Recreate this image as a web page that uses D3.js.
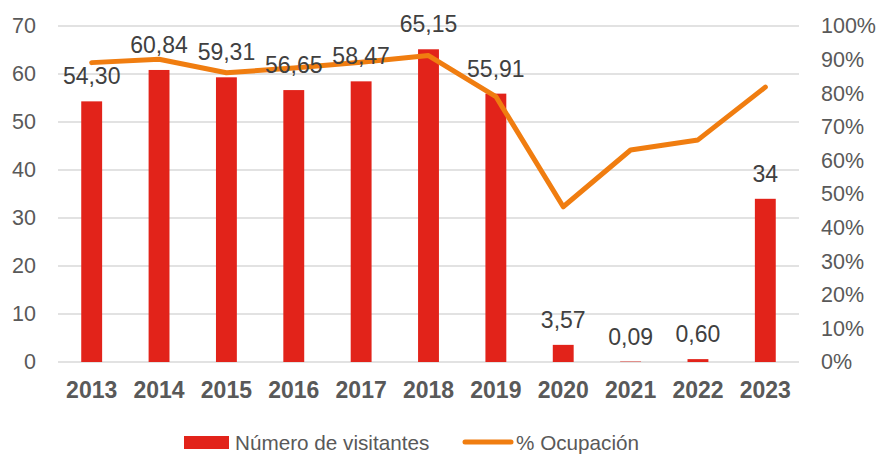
<!DOCTYPE html>
<html>
<head>
<meta charset="utf-8">
<script src="https://cdn.jsdelivr.net/npm/d3@7"></script>
<style>
  body { margin: 0; background: #fff; }
  svg { display: block; font-family: Arial, "Liberation Sans", sans-serif; }
</style>
</head>
<body>
<div id="chart"></div>
<script>
// Chart data
const years = ['2013', '2014', '2015', '2016', '2017', '2018', '2019', '2020', '2021', '2022', '2023'];
const visitors = [54.30, 60.84, 59.31, 56.65, 58.47, 65.15, 55.91, 3.57, 0.09, 0.60, 34];
const visitorLabels = ['54,30', '60,84', '59,31', '56,65', '58,47', '65,15', '55,91', '3,57', '0,09', '0,60', '34'];
const occupancy = [0.891, 0.901, 0.861, 0.875, 0.892, 0.912, 0.790, 0.462, 0.631, 0.661, 0.818];
const leftTicks = [0, 10, 20, 30, 40, 50, 60, 70];
const rightTicks = [0, 0.1, 0.2, 0.3, 0.4, 0.5, 0.6, 0.7, 0.8, 0.9, 1.0];

const W = 883, H = 454;
const margin = { top: 26, right: 84, bottom: 92, left: 58 };
const width = W - margin.left - margin.right;
const height = H - margin.top - margin.bottom;

const barColor = '#E2231A';
const lineColor = '#F07D10';

const svg = d3.select('#chart').append('svg')
    .attr('width', W)
    .attr('height', H);

const g = svg.append('g')
    .attr('transform', `translate(${margin.left},${margin.top})`);

const x = d3.scaleBand().domain(years).range([0, width]).padding(0);
const y = d3.scaleLinear().domain([0, 70]).range([height, 0]);
const y2 = d3.scaleLinear().domain([0, 1]).range([height, 0]);

// Gridlines
g.selectAll('.grid')
    .data(leftTicks)
    .join('line')
    .attr('class', 'grid')
    .attr('x1', 0)
    .attr('x2', width)
    .attr('y1', d => y(d))
    .attr('y2', d => y(d))
    .attr('stroke', '#D9D9D9')
    .attr('stroke-width', 1.5);

// Left axis
const leftAxis = g.append('g')
    .call(d3.axisLeft(y).tickValues(leftTicks).tickSize(0).tickPadding(22));
leftAxis.select('.domain').remove();
leftAxis.selectAll('text')
    .attr('fill', '#595959')
    .style('font-size', '21.5px');

// Right axis
const rightAxis = g.append('g')
    .attr('transform', `translate(${width},0)`)
    .call(d3.axisRight(y2).tickValues(rightTicks).tickSize(0).tickPadding(22)
        .tickFormat(d3.format('.0%')));
rightAxis.select('.domain').remove();
rightAxis.selectAll('text')
    .attr('fill', '#595959')
    .style('font-size', '21.5px');

// Bottom axis (years)
const xAxis = g.append('g')
    .attr('transform', `translate(0,${height})`)
    .call(d3.axisBottom(x).tickSize(0).tickPadding(20));
xAxis.select('.domain').remove();
xAxis.selectAll('text')
    .attr('fill', '#595959')
    .style('font-size', '23px')
    .style('font-weight', 'bold');

// Bars
const barW = x.bandwidth() * 0.31;
g.selectAll('.bar')
    .data(years)
    .join('rect')
    .attr('class', 'bar')
    .attr('x', d => x(d) + x.bandwidth() / 2 - barW / 2)
    .attr('y', (d, i) => y(visitors[i]))
    .attr('width', barW)
    .attr('height', (d, i) => height - y(visitors[i]))
    .attr('fill', barColor);

// Occupancy line
const line = d3.line()
    .x((d, i) => x(years[i]) + x.bandwidth() / 2)
    .y(d => y2(d));

g.append('path')
    .datum(occupancy)
    .attr('d', line)
    .attr('fill', 'none')
    .attr('stroke', lineColor)
    .attr('stroke-width', 5)
    .attr('stroke-linejoin', 'round')
    .attr('stroke-linecap', 'round');

// Data labels
g.selectAll('.val')
    .data(years)
    .join('text')
    .attr('class', 'val')
    .attr('x', d => x(d) + x.bandwidth() / 2)
    .attr('y', (d, i) => y(visitors[i]) - 17)
    .attr('text-anchor', 'middle')
    .attr('fill', '#404040')
    .style('font-size', '23px')
    .text((d, i) => visitorLabels[i]);

// Legend
const legend = svg.append('g');
legend.append('rect')
    .attr('x', 184).attr('y', 436)
    .attr('width', 45).attr('height', 13)
    .attr('fill', barColor);
legend.append('text')
    .attr('x', 235).attr('y', 450)
    .attr('fill', '#595959')
    .style('font-size', '20.7px')
    .text('Número de visitantes');
legend.append('line')
    .attr('x1', 465).attr('x2', 511)
    .attr('y1', 442).attr('y2', 442)
    .attr('stroke', lineColor)
    .attr('stroke-width', 5)
    .attr('stroke-linecap', 'round');
legend.append('text')
    .attr('x', 516).attr('y', 450)
    .attr('fill', '#595959')
    .style('font-size', '20.7px')
    .text('% Ocupación');
</script>
</body>
</html>
